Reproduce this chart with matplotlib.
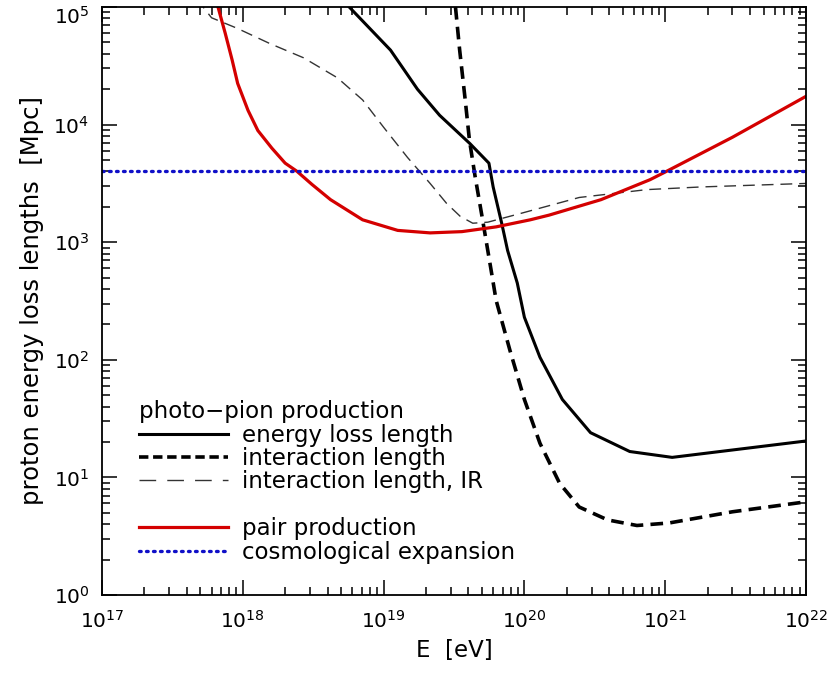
"""
plot.py — longueurs de perte d'énergie des protons (photo-pion, paires, expansion)
Sortie : out.png
"""

import matplotlib
matplotlib.use("Agg")
import matplotlib.pyplot as plt
import matplotlib.transforms as mtransforms
from matplotlib.lines import Line2D

# ---------------------------------------------------------------------------
# Données (E en eV, longueurs en Mpc)
# ---------------------------------------------------------------------------
E_perte = [5.7e18, 1.12e19, 1.74e19, 2.5e19, 4.1e19, 5.6e19, 6.0e19, 6.9e19,
           7.6e19, 8.9e19, 1.0e20, 1.29e20, 1.86e20, 2.95e20, 5.6e20,
           1.12e21, 1.0e22]
L_perte = [1.0e5, 4.3e4, 2.0e4, 1.2e4, 6.9e3, 4.7e3, 2.95e3, 1.45e3,
           850, 450, 230, 105, 46, 24, 16.6, 14.8, 20.4]

E_inter = [3.24e19, 3.47e19, 3.8e19, 4.07e19, 4.47e19, 5.0e19, 5.75e19,
           6.3e19, 7.9e19, 1.0e20, 1.29e20, 1.78e20, 2.45e20, 3.9e20,
           6.3e20, 1.07e21, 3.0e21, 1.0e22]
L_inter = [1.0e5, 4.3e4, 1.62e4, 7.4e3, 3.6e3, 1.66e3, 617, 320, 120, 46,
           19.5, 8.9, 5.6, 4.35, 3.9, 4.1, 5.1, 6.2]

E_ir = [4.2e17, 6.0e17, 9.1e17, 1.55e18, 2.7e18, 4.7e18, 7.1e18, 1.0e19,
        1.48e19, 2.14e19, 2.8e19, 3.5e19, 4.3e19, 5.5e19, 9.8e19, 2.45e20,
        7.4e20, 1.8e21, 1.0e22]
L_ir = [1.4e5, 8.1e4, 6.6e4, 4.9e4, 3.7e4, 2.5e4, 1.62e4, 9.5e3, 5.25e3,
        3.16e3, 2.14e3, 1.66e3, 1.45e3, 1.48e3, 1.78e3, 2.4e3, 2.8e3, 2.95e3,
        3.16e3]

E_paire = [6.67e17, 7.5e17, 8.4e17, 9.2e17, 1.09e18, 1.28e18, 1.61e18,
           2.0e18, 2.43e18, 3.1e18, 4.2e18, 7.1e18, 1.26e19, 2.14e19, 3.6e19,
           6.3e19, 1.1e20, 1.5e20, 3.5e20, 7.8e20, 1.02e21, 3.0e21, 1.0e22]
L_paire = [1.0e5, 6.0e4, 3.55e4, 2.24e4, 1.32e4, 8.9e3, 6.3e3, 4.7e3,
           4.0e3, 3.1e3, 2.3e3, 1.55e3, 1.26e3, 1.2e3, 1.23e3, 1.35e3,
           1.55e3, 1.7e3, 2.3e3, 3.4e3, 4.0e3, 7.8e3, 1.74e4]

E_cosmo = [1e17, 1e22]
L_cosmo = [4.0e3, 4.0e3]

Y_TICKS = [1, 10, 100, 1e3, 1e4, 1e5]

ROUGE = "#d40000"
BLEU = "#1010c8"
TAILLE_TICKS = 14.5
TAILLE_TEXTE = 16.5

TIRET_EPAIS = (0, (3.5, 2.0))
TIRET_FIN = (0, (8.5, 5))
POINTS = (0, (0.5, 1.6))

plt.rcParams["font.family"] = ["DejaVu Sans"]
plt.rcParams["mathtext.fontset"] = "dejavusans"

fig = plt.figure(figsize=(8.33, 6.73), dpi=100)
ax = fig.add_axes([0.1224, 0.1159, 0.8452, 0.8737])

ax.plot(E_perte, L_perte, color="black", lw=2.2)
ax.plot(E_inter, L_inter, color="black", lw=2.6, ls=TIRET_EPAIS)
ax.plot(E_ir, L_ir, color="#333333", lw=1.0, ls=TIRET_FIN)
ax.plot(E_paire, L_paire, color=ROUGE, lw=2.3)
ax.plot(E_cosmo, L_cosmo, color=BLEU, lw=2.4, ls=POINTS,
        dash_capstyle="round")

ax.set_xscale("log")
ax.set_yscale("log")
ax.set_xlim(1e17, 1e22)
ax.set_ylim(1, 1e5)
ax.set_yticks(Y_TICKS)

ax.tick_params(which="both", direction="in", top=True, right=True,
               labelsize=TAILLE_TICKS, width=1.1)
ax.tick_params(which="major", length=11)
ax.tick_params(axis="x", which="major", pad=11)
ax.tick_params(axis="y", which="major", pad=9)
ax.tick_params(which="minor", length=5.5)
for cote in ax.spines.values():
    cote.set_linewidth(1.3)

# l'étiquette 10^5 est descendue un peu, comme dans l'original
decalage = mtransforms.ScaledTranslation(0, -8 / 100, fig.dpi_scale_trans)
etiq_haut = ax.yaxis.get_major_ticks()[-1].label1
etiq_haut.set_transform(etiq_haut.get_transform() + decalage)

ax.set_xlabel("E  [eV]", fontsize=TAILLE_TEXTE, labelpad=5)
ax.set_ylabel("proton energy loss lengths  [Mpc]", fontsize=17.5,
              labelpad=7)

# Légende façon IDL : titre, trois styles, une ligne vide, deux styles
poignees = [
    Line2D([], [], color="black", lw=2.2),
    Line2D([], [], color="black", lw=2.6, ls=(0, (2.6, 1.3))),
    Line2D([], [], color="#333333", lw=1.0, ls=(0, (12, 8))),
    Line2D([], [], color="none"),
    Line2D([], [], color=ROUGE, lw=2.3),
    Line2D([], [], color=BLEU, lw=2.4, ls=POINTS, dash_capstyle="round"),
]
etiquettes = ["energy loss length", "interaction length",
              "interaction length, IR", "", "pair production",
              "cosmological expansion"]
leg = ax.legend(poignees, etiquettes, title="photo\u2212pion production",
                loc="lower left", bbox_to_anchor=(0.052, 0.053),
                frameon=False, fontsize=TAILLE_TEXTE,
                title_fontsize=TAILLE_TEXTE,
                handlelength=3.9, handletextpad=0.62, labelspacing=0.02,
                borderpad=0, borderaxespad=0, alignment="left")

fig.savefig("out.png", dpi=100)
